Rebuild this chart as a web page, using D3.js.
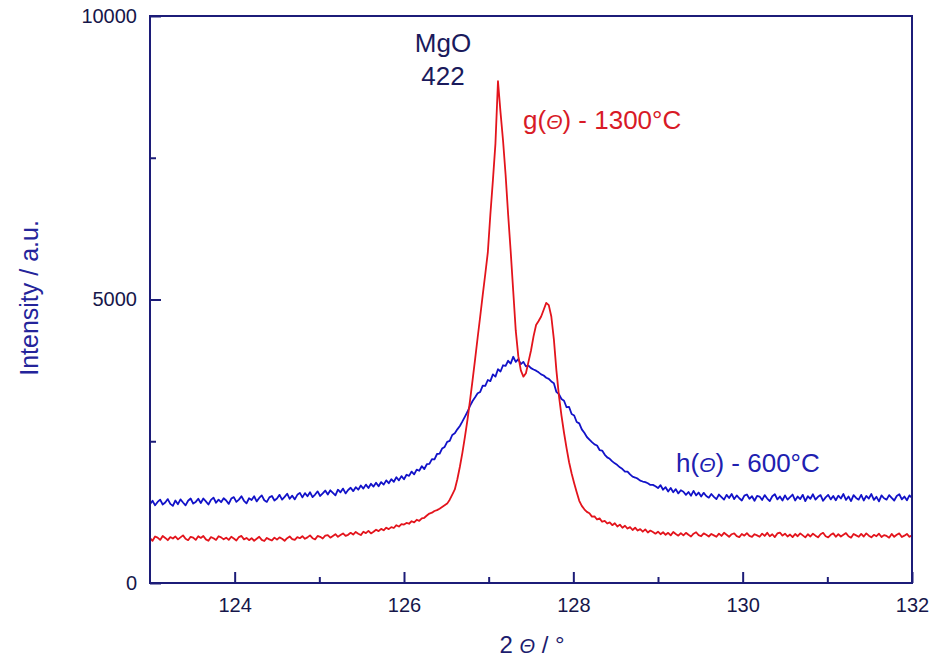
<!DOCTYPE html>
<html>
<head>
<meta charset="utf-8">
<script src="https://cdn.jsdelivr.net/npm/d3@7"></script>
<style>
  html, body { margin: 0; padding: 0; background: #ffffff; }
  svg { display: block; font-family: "Liberation Sans", Arial, sans-serif; }
</style>
</head>
<body>
<svg id="chart" width="935" height="660"></svg>
<script>
// Scan grid: 2θ from 123° to 132° in 0.03° steps
const scanStart = 123.0;
const scanStep = 0.03;

// g(Θ) – sample annealed at 1300 °C (counts)
const g1300 = [
  790, 745, 820, 800, 760, 830, 795, 755, 810, 785,
  820, 770, 805, 840, 780, 755, 815, 800, 760, 825,
  795, 830, 770, 745, 810, 790, 760, 825, 805, 770,
  800, 760, 815, 785, 750, 810, 830, 770, 795, 755,
  790, 745, 780, 815, 760, 740, 795, 770, 750, 800,
  765, 805, 780, 745, 790, 820, 775, 760, 810, 790,
  825, 780, 805, 840, 790, 770, 830, 815, 785, 835,
  845, 800, 830, 860, 815, 845, 875, 830, 850, 885,
  855, 900, 870, 845, 905, 880, 920, 875, 905, 940,
  915, 955, 930, 975, 950, 985, 970, 1020, 995, 1040,
  1030, 1060, 1045, 1090, 1070, 1115, 1095, 1140, 1150, 1190,
  1225, 1240, 1270, 1285, 1310, 1340, 1370, 1400, 1470, 1560,
  1650, 1830, 2050, 2300, 2580, 2880, 3220, 3580, 3950, 4330,
  4700, 5080, 5450, 5830, 6500, 7100, 7750, 8850, 8300, 7800,
  7200, 6500, 5850, 5150, 4450, 4000, 3750, 3640, 3700, 3900,
  4100, 4350, 4550, 4620, 4700, 4820, 4940, 4900, 4700, 4300,
  3750, 3300, 2950, 2650, 2380, 2130, 1930, 1760, 1600, 1450,
  1360, 1300, 1255, 1230, 1170, 1175, 1120, 1140, 1080, 1095,
  1050, 1070, 1020, 1055, 995, 1030, 975, 1010, 960, 985,
  935, 975, 925, 950, 905, 945, 890, 925, 900, 870,
  905, 860, 895, 850, 885, 840, 900, 865, 835, 880,
  840, 885, 850, 820, 870, 895, 845, 825, 875, 850,
  820, 865, 840, 815, 870, 830, 885, 850, 815, 860,
  875, 825, 810, 865, 835, 880, 830, 815, 860, 840,
  815, 870, 830, 885, 825, 860, 810, 875, 890, 835,
  870, 820, 855, 810, 865, 825, 875, 840, 805, 860,
  820, 870, 835, 805, 860, 885, 825, 805, 850, 875,
  815, 860, 820, 850, 880, 825, 800, 865, 840, 815,
  865, 820, 875, 835, 805, 850, 825, 870, 810, 845,
  830, 800, 865, 815, 850, 875, 810, 835, 865, 815,
  840
];

// h(Θ) – sample annealed at 600 °C (counts)
const h600 = [
  1390, 1450, 1370, 1430, 1470, 1385, 1420, 1480, 1395, 1360,
  1455, 1390, 1475, 1420, 1370, 1450, 1490, 1400, 1430, 1485,
  1410, 1490, 1440, 1385, 1465, 1505, 1415, 1470, 1425, 1495,
  1455, 1395, 1490, 1515, 1430, 1470, 1530, 1450, 1405, 1495,
  1465, 1530, 1440, 1500, 1545, 1460, 1430, 1510, 1535, 1455,
  1490, 1555, 1470, 1520, 1575, 1485, 1540, 1475, 1555, 1590,
  1510, 1585, 1530, 1600, 1515, 1560, 1615, 1535, 1580, 1630,
  1560, 1635, 1590, 1545, 1645, 1600, 1665, 1580, 1640, 1680,
  1620, 1690, 1645, 1720, 1665, 1735, 1675, 1750, 1700, 1770,
  1705, 1780, 1735, 1810, 1760, 1830, 1785, 1865, 1810, 1885,
  1830, 1910, 1890, 1965, 1915, 2000, 1980, 2060, 2010, 2095,
  2100, 2185, 2180, 2275, 2280, 2370, 2400, 2490, 2505, 2610,
  2640, 2710, 2770, 2850, 2935, 3020, 3125, 3210, 3275, 3345,
  3370, 3480, 3475, 3580, 3560, 3680, 3640, 3770, 3730, 3840,
  3830, 3920, 3870, 3990, 3900, 3950, 3860, 3900, 3820, 3835,
  3790, 3765, 3745, 3715, 3680, 3660, 3620, 3600, 3555, 3525,
  3370, 3330, 3245, 3215, 3100, 3105, 2980, 2955, 2840, 2815,
  2710, 2650, 2575, 2530, 2485, 2445, 2425, 2345, 2335, 2265,
  2215, 2190, 2145, 2110, 2080, 2040, 2010, 1965, 1965, 1915,
  1875, 1860, 1840, 1805, 1790, 1780, 1760, 1730, 1730, 1705,
  1675, 1725, 1645, 1690, 1615, 1675, 1600, 1655, 1580, 1635,
  1610, 1555, 1605, 1540, 1625, 1545, 1595, 1525, 1590, 1535,
  1505, 1570, 1520, 1480, 1560, 1515, 1470, 1555, 1500, 1570,
  1480, 1545, 1495, 1455, 1540, 1560, 1485, 1530, 1450, 1535,
  1525, 1465, 1550, 1490, 1445, 1530, 1565, 1475, 1525, 1455,
  1545, 1470, 1515, 1560, 1455, 1525, 1480, 1555, 1445, 1530,
  1485, 1565, 1470, 1520, 1550, 1450, 1510, 1555, 1475, 1535,
  1460, 1540, 1490, 1570, 1465, 1525, 1445, 1550, 1500, 1470,
  1555, 1455, 1535, 1490, 1570, 1465, 1520, 1440, 1545, 1495,
  1470, 1550, 1500, 1455, 1535, 1565, 1475, 1525, 1460, 1545,
  1500
];

// Axis ticks
const xMajorTicks = [124, 126, 128, 130, 132];
const xMinorTicks = [125, 127, 129, 131];
const yMajorTicks = [0, 5000, 10000];
const yMinorTicks = [2500, 7500];

const svg = d3.select("#chart");
const plotLeft = 150, plotRight = 912, plotTop = 16, plotBottom = 583;

const x = d3.scaleLinear().domain([123, 132]).range([plotLeft, plotRight]);
const y = d3.scaleLinear().domain([0, 10000]).range([plotBottom, plotTop]);

const frameColor = "#1c1c78";
const labelColor = "#16164a";

const toPoints = vals => vals.map((v, i) => [scanStart + i * scanStep, v]);

svg.append("defs").append("clipPath").attr("id", "plotClip")
  .append("rect").attr("x", plotLeft).attr("y", plotTop)
  .attr("width", plotRight - plotLeft).attr("height", plotBottom - plotTop);

const line = d3.line().x(d => x(d[0])).y(d => y(d[1]));

const plot = svg.append("g").attr("clip-path", "url(#plotClip)");
plot.append("path").datum(toPoints(h600))
  .attr("d", line).attr("fill", "none")
  .attr("stroke", "#1212c8").attr("stroke-width", 1.8).attr("stroke-linejoin", "round");
plot.append("path").datum(toPoints(g1300))
  .attr("d", line).attr("fill", "none")
  .attr("stroke", "#e3141c").attr("stroke-width", 1.8).attr("stroke-linejoin", "round");

// Axes with inward-pointing ticks
const xAxisMajor = d3.axisBottom(x).tickValues(xMajorTicks)
  .tickSize(-11).tickPadding(15).tickFormat(d3.format("d"));
const xAxisMinor = d3.axisBottom(x).tickValues(xMinorTicks)
  .tickSize(-6).tickFormat("");
const yAxisMajor = d3.axisLeft(y).tickValues(yMajorTicks)
  .tickSize(-11).tickPadding(13).tickFormat(d3.format("d"));
const yAxisMinor = d3.axisLeft(y).tickValues(yMinorTicks)
  .tickSize(-6).tickFormat("");

function styleAxis(g) {
  g.select(".domain").remove();
  g.selectAll(".tick line").attr("stroke", frameColor).attr("stroke-width", 2);
  g.selectAll(".tick text").attr("fill", labelColor)
    .style("font-size", "20px").style("font-family", "'Liberation Sans', Arial, sans-serif");
}

svg.append("g").attr("transform", `translate(0,${plotBottom})`).call(xAxisMajor).call(styleAxis);
svg.append("g").attr("transform", `translate(0,${plotBottom})`).call(xAxisMinor).call(styleAxis);
svg.append("g").attr("transform", `translate(${plotLeft},0)`).call(yAxisMajor).call(styleAxis);
svg.append("g").attr("transform", `translate(${plotLeft},0)`).call(yAxisMinor).call(styleAxis);

// Frame
svg.append("rect").attr("x", plotLeft).attr("y", plotTop)
  .attr("width", plotRight - plotLeft).attr("height", plotBottom - plotTop)
  .attr("fill", "none").attr("stroke", frameColor).attr("stroke-width", 2);

// Annotations
const ann = svg.append("g").style("font-size", "26px");
ann.append("text").attr("x", 443).attr("y", 52).attr("text-anchor", "middle")
  .attr("fill", "#1a1a5c").text("MgO");
ann.append("text").attr("x", 443).attr("y", 85).attr("text-anchor", "middle")
  .attr("fill", "#1a1a5c").text("422");

const gLab = ann.append("text").attr("x", 523).attr("y", 129).attr("fill", "#d81a26");
gLab.append("tspan").text("g(");
gLab.append("tspan").style("font-style", "italic").style("font-size", "21px").text("Θ");
gLab.append("tspan").text(") - 1300°C");

const hLab = ann.append("text").attr("x", 676).attr("y", 472).attr("fill", "#2020b0");
hLab.append("tspan").text("h(");
hLab.append("tspan").style("font-style", "italic").style("font-size", "21px").text("Θ");
hLab.append("tspan").text(") - 600°C");

// Axis titles
const xt = svg.append("text").attr("x", 532).attr("y", 653).attr("text-anchor", "middle")
  .attr("fill", "#1c1c6e").style("font-size", "24px");
xt.append("tspan").text("2 ");
xt.append("tspan").style("font-style", "italic").style("font-size", "20px").text("Θ");
xt.append("tspan").text(" / °");

svg.append("text").attr("transform", "translate(38,298) rotate(-90)")
  .attr("text-anchor", "middle").attr("fill", "#24249a")
  .style("font-size", "25px").text("Intensity / a.u.");
</script>
</body>
</html>
